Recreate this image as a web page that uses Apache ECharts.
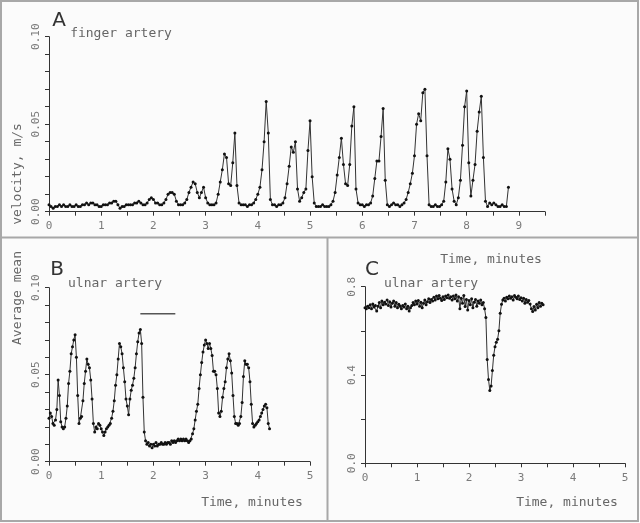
<!DOCTYPE html>
<html>
<head>
<meta charset="utf-8">
<script src="https://cdn.jsdelivr.net/npm/echarts@6/dist/echarts.min.js"></script>
<style>
  html, body { margin: 0; padding: 0; background: #fbfbfb; }
  #chart { width: 640px; height: 523px; }
</style>
</head>
<body>
<div id="chart"></div>
<script>
// A: finger artery velocity (m/s), one sample every 0.04 min
var aStep = 0.04
var aVelocity = [
  0.004, 0.003, 0.002, 0.003, 0.003, 0.004, 0.003, 0.004, 0.003, 0.003,
  0.004, 0.003, 0.003, 0.004, 0.003, 0.003, 0.004, 0.004, 0.005, 0.004,
  0.005, 0.005, 0.004, 0.004, 0.003, 0.003, 0.004, 0.004, 0.004, 0.005,
  0.005, 0.006, 0.006, 0.004, 0.002, 0.003, 0.003, 0.004, 0.004, 0.004,
  0.004, 0.005, 0.005, 0.006, 0.005, 0.004, 0.004, 0.005, 0.007, 0.008,
  0.007, 0.005, 0.005, 0.004, 0.004, 0.005, 0.007, 0.010, 0.011, 0.011,
  0.010, 0.006, 0.004, 0.004, 0.004, 0.005, 0.007, 0.011, 0.014, 0.017,
  0.016, 0.011, 0.008, 0.011, 0.014, 0.008, 0.005, 0.004, 0.004, 0.004,
  0.005, 0.010, 0.017, 0.024, 0.033, 0.031, 0.016, 0.015, 0.028, 0.045,
  0.015, 0.005, 0.004, 0.004, 0.004, 0.003, 0.004, 0.004, 0.005, 0.007,
  0.010, 0.014, 0.024, 0.040, 0.063, 0.045, 0.007, 0.004, 0.004, 0.003,
  0.004, 0.004, 0.005, 0.008, 0.016, 0.026, 0.037, 0.034, 0.040, 0.013,
  0.006, 0.008, 0.011, 0.013, 0.035, 0.052, 0.020, 0.005, 0.003, 0.003,
  0.003, 0.004, 0.003, 0.003, 0.003, 0.004, 0.006, 0.011, 0.021, 0.031,
  0.042, 0.027, 0.016, 0.015, 0.027, 0.049, 0.060, 0.013, 0.005, 0.004,
  0.004, 0.003, 0.004, 0.004, 0.005, 0.009, 0.019, 0.029, 0.029, 0.043,
  0.059, 0.018, 0.004, 0.003, 0.004, 0.005, 0.004, 0.004, 0.003, 0.004,
  0.005, 0.007, 0.011, 0.016, 0.022, 0.032, 0.050, 0.056, 0.052, 0.068,
  0.070, 0.032, 0.004, 0.003, 0.003, 0.004, 0.003, 0.003, 0.004, 0.006,
  0.017, 0.036, 0.030, 0.013, 0.006, 0.004, 0.008, 0.018, 0.038, 0.060,
  0.069, 0.028, 0.009, 0.018, 0.027, 0.046, 0.057, 0.066, 0.031, 0.006,
  0.003, 0.005, 0.004, 0.005, 0.004, 0.003, 0.003, 0.004, 0.003, 0.003,
  0.014
]

// B: ulnar artery average mean velocity, one sample every 0.025 min
var bStep = 0.025
var bVelocity = [
  0.025, 0.028, 0.026, 0.022, 0.021, 0.024, 0.030, 0.047,
  0.038, 0.023, 0.020, 0.019, 0.020, 0.025, 0.032, 0.045,
  0.052, 0.062, 0.066, 0.070, 0.073, 0.060, 0.038, 0.022,
  0.025, 0.026, 0.035, 0.045, 0.052, 0.059, 0.056, 0.054,
  0.047, 0.036, 0.022, 0.017, 0.020, 0.019, 0.022, 0.021,
  0.019, 0.017, 0.015, 0.017, 0.019, 0.020, 0.021, 0.022,
  0.025, 0.029, 0.035, 0.044, 0.050, 0.059, 0.068, 0.066,
  0.062, 0.054, 0.046, 0.036, 0.032, 0.027, 0.036, 0.041,
  0.044, 0.048, 0.054, 0.062, 0.069, 0.074, 0.076, 0.068,
  0.037, 0.017, 0.012, 0.010, 0.011, 0.009, 0.010, 0.008,
  0.010, 0.009, 0.011, 0.009, 0.010, 0.010, 0.011, 0.010,
  0.010, 0.011, 0.010, 0.011, 0.011, 0.010, 0.012, 0.011,
  0.012, 0.011, 0.012, 0.013, 0.012, 0.013, 0.012, 0.013,
  0.012, 0.013, 0.012, 0.011, 0.012, 0.013, 0.016, 0.019,
  0.024, 0.029, 0.033, 0.042, 0.050, 0.057, 0.063, 0.067,
  0.070, 0.068, 0.065, 0.068, 0.065, 0.061, 0.052, 0.052,
  0.050, 0.042, 0.028, 0.026, 0.029, 0.037, 0.042, 0.046,
  0.054, 0.059, 0.062, 0.058, 0.051, 0.038, 0.026, 0.022,
  0.022, 0.021, 0.022, 0.026, 0.034, 0.049, 0.058, 0.056,
  0.056, 0.054, 0.046, 0.033, 0.022, 0.020, 0.021, 0.022,
  0.023, 0.024, 0.026, 0.028, 0.030, 0.032, 0.033, 0.031,
  0.022, 0.019
]
// bar over the occlusion period in B
var bBarTime = [1.75, 2.42]
var bBarLevel = 0.085

// C: ulnar artery, one sample every 0.025 min
var cStep = 0.025
var cValue = [
  0.705, 0.700, 0.712, 0.705, 0.718, 0.700, 0.722, 0.708,
  0.715, 0.690, 0.712, 0.728, 0.705, 0.735, 0.718, 0.730,
  0.722, 0.740, 0.715, 0.732, 0.708, 0.725, 0.735, 0.712,
  0.728, 0.705, 0.720, 0.712, 0.700, 0.715, 0.708, 0.722,
  0.700, 0.712, 0.690, 0.705, 0.715, 0.728, 0.718, 0.735,
  0.722, 0.738, 0.712, 0.730, 0.705, 0.725, 0.740, 0.718,
  0.732, 0.745, 0.728, 0.742, 0.735, 0.752, 0.740, 0.758,
  0.745, 0.760, 0.748, 0.738, 0.755, 0.742, 0.758, 0.750,
  0.762, 0.748, 0.755, 0.740, 0.758, 0.745, 0.762, 0.735,
  0.755, 0.700, 0.748, 0.725, 0.760, 0.710, 0.742, 0.695,
  0.738, 0.718, 0.745, 0.705, 0.730, 0.742, 0.712, 0.735,
  0.725, 0.740, 0.718, 0.728, 0.700, 0.660, 0.470, 0.380,
  0.330, 0.350, 0.420, 0.490, 0.528, 0.548, 0.562, 0.600,
  0.680, 0.720, 0.740, 0.748, 0.735, 0.752, 0.745, 0.758,
  0.748, 0.755, 0.740, 0.760, 0.752, 0.745, 0.758, 0.742,
  0.750, 0.735, 0.748, 0.725, 0.742, 0.730, 0.738, 0.722,
  0.700, 0.688, 0.710, 0.695, 0.720, 0.705, 0.728, 0.712,
  0.725, 0.718
]

function pairs (step, vals) {
  return vals.map(function (v, i) { return [+(i * step).toFixed(3), v] })
}

var mono = 'DejaVu Sans Mono'
var labelColor = '#7a7a7a'

function xAxis (grid, max) {
  return {
    type: 'value', gridIndex: grid, min: 0, max: max, interval: 0.5,
    axisLine: { lineStyle: { color: '#333', width: 1 } },
    axisTick: { length: 4, lineStyle: { color: '#333' } },
    splitLine: { show: false },
    axisLabel: {
      color: labelColor, fontFamily: mono, fontSize: 11, margin: 9,
      formatter: function (v) { return Math.abs(v - Math.round(v)) < 1e-6 ? String(Math.round(v)) : '' }
    }
  }
}

function yAxis (grid, max, interval, every, digits) {
  return {
    type: 'value', gridIndex: grid, min: 0, max: max, interval: interval,
    axisLine: { lineStyle: { color: '#333', width: 1 } },
    axisTick: { length: 4, lineStyle: { color: '#333' } },
    splitLine: { show: false },
    axisLabel: {
      color: labelColor, fontFamily: mono, fontSize: 11, margin: 7, rotate: 90,
      formatter: function (v) {
        var k = Math.round(v / interval)
        return k % every === 0 ? v.toFixed(digits) : ''
      }
    }
  }
}

function trace (xi, vals, step) {
  return {
    type: 'line', xAxisIndex: xi, yAxisIndex: xi,
    data: pairs(step, vals),
    symbol: 'circle', symbolSize: 3,
    itemStyle: { color: '#111' },
    lineStyle: { color: '#333', width: 1 }
  }
}

function txt (x, y, s, size, rot, color) {
  return {
    type: 'text', x: x, y: y, rotation: rot || 0,
    style: {
      text: s, fontFamily: size > 15 ? 'DejaVu Sans' : mono, fontSize: size,
      fill: color || '#666', align: 'center', verticalAlign: 'middle'
    }
  }
}

var chart = echarts.init(document.getElementById('chart'))
chart.setOption({
  backgroundColor: '#fbfbfb',
  animation: false,
  grid: [
    { left: 49, top: 36.7, width: 496, height: 175, containLabel: false },
    { left: 49, top: 287.7, width: 261, height: 174, containLabel: false },
    { left: 365, top: 286.7, width: 260, height: 176.6, containLabel: false }
  ],
  xAxis: [xAxis(0, 9.5), xAxis(1, 5), xAxis(2, 5)],
  yAxis: [yAxis(0, 0.1, 0.01, 5, 2), yAxis(1, 0.1, 0.01, 5, 2), yAxis(2, 0.8, 0.2, 2, 1)],
  series: [
    trace(0, aVelocity, aStep),
    trace(1, bVelocity, bStep),
    {
      type: 'line', xAxisIndex: 1, yAxisIndex: 1, symbol: 'none',
      data: bBarTime.map(function (t) { return [t, bBarLevel] }),
      lineStyle: { color: '#555', width: 1.4 }
    },
    trace(2, cValue, cStep)
  ],
  graphic: [
    // panel frames
    { type: 'rect', shape: { x: 1, y: 1, width: 637, height: 520 }, style: { fill: null, stroke: '#a8a8a8', lineWidth: 2 } },
    { type: 'line', shape: { x1: 1, y1: 237.5, x2: 638, y2: 237.5 }, style: { stroke: '#a8a8a8', lineWidth: 2 } },
    { type: 'line', shape: { x1: 327.5, y1: 237.5, x2: 327.5, y2: 521 }, style: { stroke: '#a8a8a8', lineWidth: 2 } },
    // panel A
    txt(59, 21, 'A', 20, 0, '#333'),
    txt(121, 34, 'finger artery', 13),
    txt(18, 174, 'velocity, m/s', 13, Math.PI / 2),
    // panel B
    txt(57, 270, 'B', 20, 0, '#333'),
    txt(115, 284, 'ulnar artery', 13),
    txt(18, 298, 'Average mean', 13, Math.PI / 2),
    txt(252, 503, 'Time, minutes', 13),
    // panel C
    txt(372, 270, 'C', 20, 0, '#333'),
    txt(431, 284, 'ulnar artery', 13),
    txt(491, 260, 'Time, minutes', 13),
    txt(567, 503, 'Time, minutes', 13)
  ]
})
</script>
</body>
</html>
